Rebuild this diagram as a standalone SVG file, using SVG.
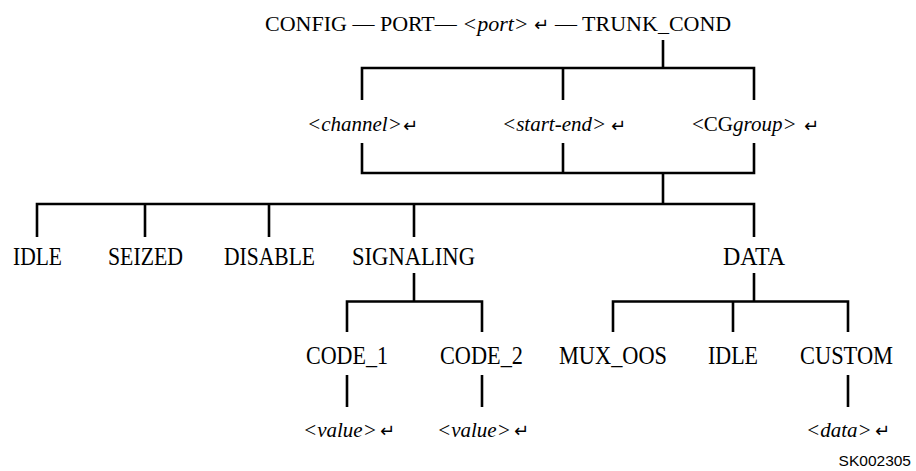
<svg xmlns="http://www.w3.org/2000/svg" width="916" height="471" viewBox="0 0 916 471">
  <style>
    .t { font-family: "Liberation Serif", "Times New Roman", serif; fill: #000; }
    .h { font-size: 22px; }
    .s { font-size: 21px; }
    .b { font-size: 26px; }
    .i { font-style: italic; }
    .ret { font-family: "DejaVu Sans", sans-serif; font-size: 18px; fill: #000; }
    .c { fill: none; stroke: #000; stroke-width: 2.6; stroke-linejoin: miter; stroke-linecap: butt; }
    .id { font-family: "Liberation Sans", Arial, sans-serif; font-size: 15.5px; fill: #000; }
  </style>
  <rect width="916" height="471" fill="#fff"/>

  <g id="connectors">
    <path class="c" d="M663 40 V68"/>
    <path class="c" d="M362 100 V68 H754 V100 M563 68 V100"/>
    <path class="c" d="M362 143 V173 H754 V143 M563 143 V173"/>
    <path class="c" d="M663 173 V204"/>
    <path class="c" d="M37 237 V204 H754 V237 M145 204 V237 M269 204 V237 M414 204 V237"/>
    <path class="c" d="M414 273 V301.5 M347 332 V301.5 H482 V332"/>
    <path class="c" d="M754 273 V301.5 M613 332 V301.5 H848 V332 M733 301.5 V332"/>
    <path class="c" d="M347 375 V407 M482 375 V407 M848 375 V407"/>
  </g>

  <g id="n-root">
    <text class="t h" x="265" y="30.5">CONFIG — PORT— <tspan class="i">&lt;port&gt;</tspan></text>
    <text class="ret" x="534" y="31">↵</text>
    <text class="t h" x="555" y="30.5">— TRUNK_COND</text>
  </g>

  <g id="n-channel">
    <text class="t s i" x="307" y="131">&lt;channel&gt;</text>
    <text class="ret" x="403" y="131.5">↵</text>
  </g>
  <g id="n-start-end">
    <text class="t s i" x="502" y="131">&lt;start-end&gt;</text>
    <text class="ret" x="611" y="131.5">↵</text>
  </g>
  <g id="n-cggroup">
    <text class="t s" x="692" y="131">&lt;CG<tspan class="i">group&gt;</tspan></text>
    <text class="ret" x="804" y="131.5">↵</text>
  </g>

  <g id="n-idle">
    <text class="t b" x="37.5" y="264.5" text-anchor="middle" textLength="49" lengthAdjust="spacingAndGlyphs">IDLE</text>
  </g>
  <g id="n-seized">
    <text class="t b" x="145.5" y="264.5" text-anchor="middle" textLength="75" lengthAdjust="spacingAndGlyphs">SEIZED</text>
  </g>
  <g id="n-disable">
    <text class="t b" x="269.5" y="264.5" text-anchor="middle" textLength="91" lengthAdjust="spacingAndGlyphs">DISABLE</text>
  </g>
  <g id="n-signaling">
    <text class="t b" x="413.5" y="264.5" text-anchor="middle" textLength="123" lengthAdjust="spacingAndGlyphs">SIGNALING</text>
  </g>
  <g id="n-data">
    <text class="t b" x="754" y="264.5" text-anchor="middle" textLength="62" lengthAdjust="spacingAndGlyphs">DATA</text>
  </g>

  <g id="n-code1">
    <text class="t b" x="347" y="364" text-anchor="middle" textLength="82" lengthAdjust="spacingAndGlyphs">CODE_1</text>
  </g>
  <g id="n-code2">
    <text class="t b" x="481.5" y="364" text-anchor="middle" textLength="83" lengthAdjust="spacingAndGlyphs">CODE_2</text>
  </g>
  <g id="n-muxoos">
    <text class="t b" x="613" y="364" text-anchor="middle" textLength="108" lengthAdjust="spacingAndGlyphs">MUX_OOS</text>
  </g>
  <g id="n-idle2">
    <text class="t b" x="733" y="364" text-anchor="middle" textLength="50" lengthAdjust="spacingAndGlyphs">IDLE</text>
  </g>
  <g id="n-custom">
    <text class="t b" x="846.5" y="364" text-anchor="middle" textLength="93" lengthAdjust="spacingAndGlyphs">CUSTOM</text>
  </g>

  <g id="n-value1">
    <text class="t s i" x="303" y="436.5">&lt;value&gt;</text>
    <text class="ret" x="380" y="437">↵</text>
  </g>
  <g id="n-value2">
    <text class="t s i" x="437" y="436.5">&lt;value&gt;</text>
    <text class="ret" x="514" y="437">↵</text>
  </g>
  <g id="n-data-value">
    <text class="t s i" x="806" y="436.5">&lt;data&gt;</text>
    <text class="ret" x="875" y="437">↵</text>
  </g>

  <g id="figure-id">
    <text class="id" x="911" y="465.5" text-anchor="end">SK002305</text>
  </g>
</svg>
